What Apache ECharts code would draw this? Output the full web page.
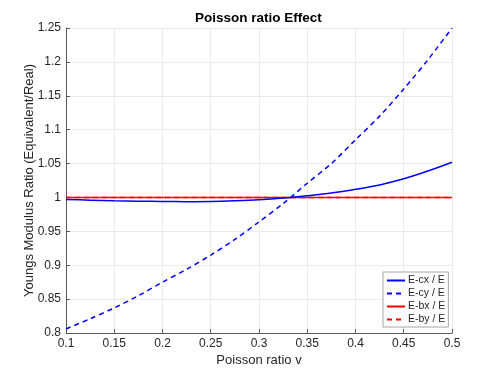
<!DOCTYPE html>
<html>
<head>
<meta charset="utf-8">
<script src="https://cdn.jsdelivr.net/npm/echarts@6/dist/echarts.min.js"></script>
<style>
  html, body { margin: 0; padding: 0; background: #fff; }
  #chart { width: 500px; height: 375px; }
</style>
</head>
<body>
<div id="chart"></div>
<script>
// poisson ratio samples (x axis)
const poisson = [0.1, 0.125, 0.15, 0.175, 0.2, 0.225, 0.25, 0.275, 0.3, 0.325, 0.35, 0.375, 0.4, 0.425, 0.45, 0.475, 0.5];
// ratios
const ecx = [0.997, 0.996, 0.995, 0.9945, 0.994, 0.9938, 0.994, 0.995, 0.9965, 0.999, 1.0025, 1.0065, 1.012, 1.0185, 1.0275, 1.039, 1.052];
const ecy = [0.806, 0.821, 0.837, 0.855, 0.875, 0.894, 0.915, 0.938, 0.964, 0.991, 1.021, 1.05, 1.085, 1.12, 1.16, 1.203, 1.25];
const ebx = [1, 1, 1, 1, 1, 1, 1, 1, 1, 1, 1, 1, 1, 1, 1, 1, 1];
const eby = [1, 1, 1, 1, 1, 1, 1, 1, 1, 1, 1, 1, 1, 1, 1, 1, 1];
const seriesNames = ['E-cx / E', 'E-cy / E', 'E-bx / E', 'E-by / E'];

const pairs = arr => poisson.map((p, i) => [p, arr[i]]);
const fnt = 'Helvetica, Arial, "Liberation Sans", sans-serif';
const txt = '#262626';

function mkLine(name, data, color, dashed, z) {
    return {
        name: name,
        type: 'line',
        smooth: 0.3,
        symbol: 'none',
        z: z,
        data: pairs(data),
        lineStyle: { color: color, width: 1.5, type: dashed ? [5, 4] : 'solid' },
        itemStyle: { color: color }
    };
}

const myChart = echarts.init(document.getElementById('chart'));
myChart.setOption({
    backgroundColor: '#fff',
    animation: false,
    title: {
        text: 'Poisson ratio Effect',
        left: 195,
        top: 11,
        padding: 0,
        textStyle: { fontFamily: fnt, fontSize: 13.5, fontWeight: 'bold', color: '#000' }
    },
    grid: { left: 66, right: 48, top: 28, bottom: 42 },
    legend: {
        data: seriesNames,
        orient: 'vertical',
        left: 383,
        top: 272,
        itemWidth: 18,
        itemHeight: 10,
        itemGap: 2,
        padding: [3, 3, 2, 3],
        backgroundColor: '#fff',
        borderColor: '#a6a6a6',
        borderWidth: 1,
        itemStyle: { opacity: 0 },
        textStyle: { fontFamily: fnt, fontSize: 10.5, color: txt, padding: [0, 0, 0, -2] }
    },
    xAxis: {
        type: 'value',
        min: 0.1,
        max: 0.5,
        interval: 0.05,
        name: 'Poisson ratio v',
        nameLocation: 'middle',
        nameGap: 21,
        nameMoveOverlap: false,
        nameTextStyle: { fontFamily: fnt, fontSize: 13, color: txt },
        axisLine: { lineStyle: { color: '#5a5a5a', width: 1 } },
        axisTick: { inside: true, length: 4, lineStyle: { color: '#5a5a5a' } },
        axisLabel: {
            fontFamily: fnt, fontSize: 12, color: txt, margin: 5,
            formatter: v => String(+v.toFixed(2))
        },
        splitLine: { show: true, lineStyle: { color: '#ebebeb', width: 1 } }
    },
    yAxis: {
        type: 'value',
        min: 0.8,
        max: 1.25,
        interval: 0.05,
        name: 'Youngs Modulus Ratio (Equivalent/Real)',
        nameLocation: 'middle',
        nameGap: 30,
        nameMoveOverlap: false,
        nameTextStyle: { fontFamily: fnt, fontSize: 13, color: txt },
        axisLine: { show: true, lineStyle: { color: '#5a5a5a', width: 1 } },
        axisTick: { show: true, inside: true, length: 4, lineStyle: { color: '#5a5a5a' } },
        axisLabel: {
            fontFamily: fnt, fontSize: 12, color: txt, margin: 5,
            formatter: v => String(+v.toFixed(2))
        },
        splitLine: { show: true, lineStyle: { color: '#ebebeb', width: 1 } }
    },
    series: [
        mkLine(seriesNames[0], ecx, '#0000ff', false, 3),
        mkLine(seriesNames[1], ecy, '#0000ff', true, 3),
        mkLine(seriesNames[2], ebx, '#ff0000', false, 2),
        mkLine(seriesNames[3], eby, '#ff0000', true, 1)
    ]
});
</script>
</body>
</html>
